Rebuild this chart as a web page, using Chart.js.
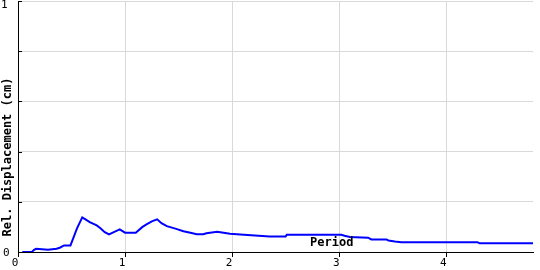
<!DOCTYPE html>
<html lang="en">

<head>
    <meta charset="UTF-8">
    <title>Rel. Displacement</title>
    <script src="https://cdn.jsdelivr.net/npm/chart.js"></script>
    <style>
        html, body { margin: 0; padding: 0; background: #fff; }
        .wrap { width: 540px; height: 270px; }
    </style>
</head>

<body>
    <div class="wrap">
        <canvas id="chart-spec"></canvas>
    </div>
</body>

</html>

<script>
    // periods (s) and relative displacement (cm)
    const periodos = [0.04, 0.13, 0.15, 0.17, 0.28, 0.36, 0.39, 0.43, 0.49, 0.50, 0.52, 0.55, 0.58, 0.60,
        0.63, 0.67, 0.735, 0.77, 0.81, 0.85, 0.91, 0.95, 1.00, 1.10, 1.16, 1.20, 1.25, 1.30, 1.34, 1.39,
        1.47, 1.545, 1.61, 1.67, 1.73, 1.76, 1.86, 1.92, 1.98, 2.11, 2.35, 2.50, 2.51, 3.02, 3.05, 3.10,
        3.27, 3.30, 3.44, 3.46, 3.52, 3.58, 4.29, 4.31, 4.81];
    const desloc = [0, 0, 0.009, 0.013, 0.009, 0.013, 0.017, 0.026, 0.026, 0.037, 0.059, 0.093, 0.12, 0.138,
        0.13, 0.119, 0.106, 0.095, 0.079, 0.07, 0.082, 0.09, 0.077, 0.077, 0.099, 0.11, 0.122, 0.13, 0.115, 0.103,
        0.093, 0.083, 0.077, 0.071, 0.071, 0.075, 0.081, 0.077, 0.073, 0.069, 0.062, 0.062, 0.069, 0.069, 0.065, 0.06,
        0.057, 0.05, 0.05, 0.046, 0.042, 0.039, 0.039, 0.035, 0.035];
    const yLabels = [0, 1];
    const xMax = 4.81;

    const monoFont = '"DejaVu Sans Mono", monospace';

    // axis title, "Period" label, y tick labels and inner tick marks
    const textos = {
        id: 'textos',
        afterDraw(chart) {
            const ctx = chart.ctx;
            const ca = chart.chartArea;
            const y = chart.scales.y;
            const x = chart.scales.x;
            ctx.save();
            ctx.fillStyle = '#000';
            ctx.strokeStyle = '#000';
            ctx.lineWidth = 1;
            // tick marks inside the y axis
            y.ticks.forEach(t => {
                const py = Math.round(y.getPixelForValue(t.value)) + 0.5;
                ctx.beginPath();
                ctx.moveTo(ca.left, py);
                ctx.lineTo(ca.left + 4, py);
                ctx.stroke();
            });
            // y tick labels (only 0 and 1)
            ctx.font = '11px ' + monoFont;
            ctx.textAlign = 'left';
            yLabels.forEach(v => {
                let py = y.getPixelForValue(v);
                ctx.textBaseline = v === 1 ? 'top' : 'middle';
                if (v === 1) py = 0;
                ctx.fillText(String(v), v === 1 ? 1 : 3, py + (v === 1 ? 0 : 1));
            });
            // y axis title
            ctx.font = 'bold 12px ' + monoFont;
            ctx.textAlign = 'center';
            ctx.textBaseline = 'middle';
            ctx.translate(8, 157);
            ctx.rotate(-Math.PI / 2);
            ctx.fillText('Rel. Displacement (cm)', 0, 0);
            ctx.restore();

            ctx.save();
            ctx.font = 'bold 12px ' + monoFont;
            ctx.fillStyle = '#000';
            ctx.textAlign = 'center';
            ctx.textBaseline = 'middle';
            ctx.fillText('Period', x.getPixelForValue(2.93), ca.bottom - 9);
            ctx.restore();
        }
    };

    const ctxSpec = document.getElementById('chart-spec');

    new Chart(ctxSpec, {
        type: 'line',
        data: {
            datasets: [{
                label: 'Rel. Displacement',
                data: periodos.map((p, i) => ({ x: p, y: desloc[i] })),
                borderColor: '#0000ff',
                backgroundColor: '#0000ff',
                borderWidth: 2,
                pointRadius: 0,
                tension: 0,
                fill: false
            }]
        },
        options: {
            responsive: true,
            maintainAspectRatio: false,
            animation: false,
            layout: {
                padding: { top: 1, right: 7, left: 0, bottom: 0 }
            },
            plugins: {
                legend: { display: false },
                tooltip: { enabled: false }
            },
            scales: {
                x: {
                    type: 'linear',
                    min: 0,
                    max: xMax,
                    afterFit(scale) { scale.height = 18; },
                    border: { display: true, color: '#000', width: 1 },
                    grid: {
                        color: '#d9d9d9',
                        tickColor: '#000',
                        tickLength: 5,
                        drawTicks: true
                    },
                    ticks: {
                        stepSize: 1,
                        includeBounds: false,
                        maxRotation: 0,
                        padding: 0,
                        labelOffset: -3,
                        color: '#000',
                        font: { family: monoFont, size: 11 }
                    }
                },
                y: {
                    min: 0,
                    max: 1,
                    afterFit(scale) { scale.width = 18; },
                    border: { display: true, color: '#000', width: 1 },
                    grid: {
                        color: '#d9d9d9',
                        drawTicks: false
                    },
                    ticks: {
                        stepSize: 0.2,
                        display: false
                    }
                }
            }
        },
        plugins: [textos]
    });
</script>
